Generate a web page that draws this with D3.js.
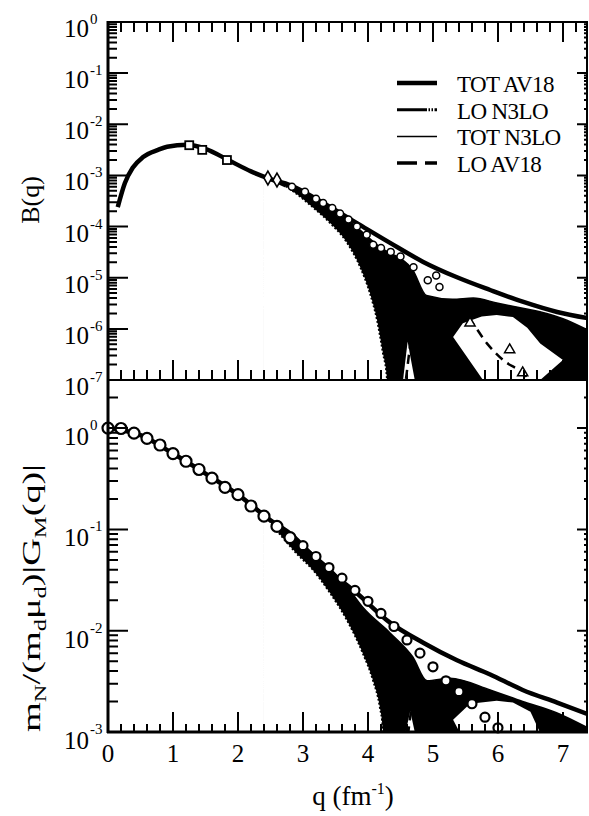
<!DOCTYPE html>
<html>
<head>
<meta charset="utf-8">
<script src="https://cdn.jsdelivr.net/npm/d3@7"></script>
</head>
<body style="margin:0;background:#fff">
<svg id="fig" width="589" height="816" style="font-family:'Liberation Serif','Times New Roman',serif"></svg>
<script>
// ---------- top panel : B(q) ----------
const qTotAv18B = [0.15, 0.26, 0.38, 0.54, 0.77, 0.91, 1.22, 1.5, 1.85, 2.2, 2.5, 2.8, 3.31, 3.83, 4.34, 4.85, 5.37, 5.88, 6.38, 6.91, 7.38];
const totAv18B  = [2.4e-4, 7.1e-4, 1.41e-3, 2.29e-3, 3.16e-3, 3.63e-3, 3.98e-3, 3.31e-3, 2.0e-3, 1.2e-3, 8.5e-4, 6.5e-4, 2.9e-4, 1.17e-4, 4.8e-5, 2.04e-5, 1.02e-5, 5.75e-6, 3.4e-6, 2.14e-6, 1.62e-6];

// upper edge of the black N3LO band (TOT N3LO)
const qTotN3loB = [2.4, 2.8, 3.2, 3.5, 3.68, 4.18, 4.69, 4.9, 5.3, 5.62, 6.0, 6.4, 6.75, 7.0, 7.38];
const totN3loB  = [9.5e-4, 6.2e-4, 3.5e-4, 2.1e-4, 1.4e-4, 4.0e-5, 1.41e-5, 4.5e-6, 3.8e-6, 4.0e-6, 3.16e-6, 2.5e-6, 2.0e-6, 1.58e-6, 9.5e-7];
// lower edge (LO N3LO)
const qLoN3loB = [2.4, 2.65, 3.15, 3.42, 3.68, 3.88, 4.03, 4.14, 4.23, 4.29, 4.33];
const loN3loB  = [9.5e-4, 7.1e-4, 2.4e-4, 1.17e-4, 4.8e-5, 1.62e-5, 5.0e-6, 1.48e-6, 3.4e-7, 1.15e-7, 1e-8];

const qLoAv18B = [2.4, 3.0, 3.5, 4.0, 4.3, 4.5, 4.7, 5.0, 5.3, 5.57, 5.83, 6.08, 6.38, 6.7];
const loAv18B  = [9.5e-4, 4.0e-4, 1.4e-4, 2.5e-5, 3.2e-6, 3.2e-8, 1.0e-6, 2.8e-6, 2.5e-6, 1.48e-6, 5.2e-7, 2.45e-7, 1.38e-7, 5e-8];

// white holes inside the band
const qNotchB = [4.54, 4.61, 4.72];
const notchB  = [1e-7, 5.6e-7, 1e-7];
const qHoleB  = [5.31, 5.46, 5.75, 5.98, 6.23, 6.45, 6.65, 7.0, 6.65, 5.77];
const holeB   = [6.9e-7, 1.29e-6, 1.74e-6, 1.86e-6, 1.7e-6, 1.05e-6, 5.2e-7, 2.45e-7, 1e-7, 1e-7];

// data points
const qSqB   = [1.25, 1.45, 1.83];
const sqB    = [3.9e-3, 3.16e-3, 2.0e-3];
const qDiaB  = [2.46, 2.6];
const diaB   = [8.9e-4, 8.1e-4];
const qCircB = [2.83, 3.03, 3.2, 3.31, 3.45, 3.57, 3.7, 3.83, 3.98, 4.08, 4.2, 4.35, 4.5, 4.7, 4.92, 5.05, 5.1];
const circB  = [6.0e-4, 4.8e-4, 3.5e-4, 2.9e-4, 2.3e-4, 1.8e-4, 1.38e-4, 1.0e-4, 6.9e-5, 4.4e-5, 3.8e-5, 3.2e-5, 2.6e-5, 1.6e-5, 8.9e-6, 1.1e-5, 6.6e-6];
const qTriB  = [5.57, 6.18, 6.38];
const triB   = [1.3e-6, 3.9e-7, 1.38e-7];

// ---------- bottom panel : mN/(md mud)|GM(q)| ----------
const qTotAv18G = [0, 0.5, 1.0, 1.5, 2.0, 2.5, 2.8, 3.31, 3.83, 4.34, 4.85, 5.37, 5.88, 6.38, 6.91, 7.38];
const totAv18G  = [1.0, 0.85, 0.56, 0.355, 0.22, 0.123, 0.091, 0.043, 0.0234, 0.012, 0.0076, 0.0051, 0.0037, 0.0026, 0.00195, 0.0015];

const qTotN3loG = [2.4, 2.8, 3.15, 3.42, 3.68, 3.92, 4.34, 4.69, 4.91, 5.26, 5.88, 6.38, 6.9, 7.38];
const totN3loG  = [0.141, 0.089, 0.058, 0.041, 0.027, 0.017, 0.0095, 0.0055, 0.0032, 0.0034, 0.0026, 0.002, 0.00155, 0.0011];
const qLoN3loG  = [2.4, 2.9, 3.15, 3.42, 3.68, 3.92, 4.08, 4.18, 4.23, 4.27];
const loN3loG   = [0.141, 0.058, 0.040, 0.0234, 0.0126, 0.006, 0.0032, 0.0018, 0.00105, 1e-4];

const qLoAv18G = [2.4, 3.0, 3.5, 4.0, 4.3, 4.5, 4.7, 5.0, 5.5, 6.0, 6.5, 7.0, 7.38];
const loAv18G  = [0.141, 0.063, 0.028, 0.0089, 0.0025, 3.2e-4, 0.002, 0.0028, 0.0025, 0.0023, 0.0018, 0.0013, 0.001];

const qNotchG = [4.58, 4.65, 4.72];
const notchG  = [1e-3, 1.6e-3, 1e-3];
const qHoleG  = [5.31, 5.57, 5.98, 6.23, 6.5, 6.68, 5.45];
const holeG   = [1.32e-3, 1.9e-3, 2.04e-3, 1.95e-3, 1.58e-3, 8.9e-4, 8.9e-4];

const qCircG = [0, 0.2, 0.4, 0.6, 0.8, 1.0, 1.2, 1.4, 1.6, 1.8, 2.0, 2.2, 2.4, 2.6, 2.8, 3.0, 3.2, 3.4, 3.6, 3.8, 4.0, 4.2, 4.4, 4.6, 4.8, 5.0, 5.2, 5.4, 5.6, 5.8, 6.0];
const circG  = [1.0, 0.99, 0.89, 0.79, 0.68, 0.56, 0.47, 0.39, 0.32, 0.26, 0.22, 0.17, 0.135, 0.107, 0.083, 0.069, 0.054, 0.042, 0.033, 0.025, 0.0195, 0.0148, 0.011, 0.0081, 0.006, 0.0044, 0.0032, 0.0025, 0.0019, 0.0014, 0.0011];

// ---------- ticks / legend ----------
const xMajor = [0, 1, 2, 3, 4, 5, 6, 7];
const xMinor = [0.2, 0.4, 0.6, 0.8, 1.2, 1.4, 1.6, 1.8, 2.2, 2.4, 2.6, 2.8, 3.2, 3.4, 3.6, 3.8, 4.2, 4.4, 4.6, 4.8, 5.2, 5.4, 5.6, 5.8, 6.2, 6.4, 6.6, 6.8, 7.2];
const expB = [0, -1, -2, -3, -4, -5, -6, -7];
const expG = [0, -1, -2, -3];
const mantissa = [2, 3, 4, 5, 6, 7, 8, 9];
const legendNames = ["TOT AV18", "LO N3LO", "TOT N3LO", "LO AV18"];

// ---------- drawing ----------
const svg = d3.select("#fig");
const x  = d3.scaleLinear().domain([0, 7.37]).range([108, 587]);
const yB = d3.scaleLog().domain([1e-7, 1]).range([380, 22]);
const yG = d3.scaleLog().domain([1e-3, 2.98]).range([732, 380]);

const pts = (qs, vs) => qs.map((q, i) => [q, vs[i]]);

const decB = expB.map(e => Math.pow(10, e));
const decG = expG.map(e => Math.pow(10, e));
const minorB = [];
expB.slice(1).forEach(e => mantissa.forEach(k => minorB.push(k * Math.pow(10, e))));
const minorG = [];
expG.forEach(e => mantissa.forEach(k => { if (k * Math.pow(10, e) < 2.98) minorG.push(k * Math.pow(10, e)); }));

const defs = svg.append("defs");
defs.append("clipPath").attr("id", "clipB").append("rect")
    .attr("x", x(0)).attr("y", yB(1)).attr("width", x(7.37) - x(0)).attr("height", yB(1e-7) - yB(1));
defs.append("clipPath").attr("id", "clipG").append("rect")
    .attr("x", x(0)).attr("y", yG(2.98)).attr("width", x(7.37) - x(0)).attr("height", yG(1e-3) - yG(2.98));

function drawPanel(y, clip, d) {
    const g = svg.append("g").attr("clip-path", "url(#" + clip + ")");
    const yBot = y.range()[0];
    const line = d3.line().x(p => x(p[0])).y(p => y(p[1])).curve(d3.curveMonotoneX);
    const under = d3.area().x(p => x(p[0])).y0(yBot).y1(p => y(p[1])).curve(d3.curveMonotoneX);
    const poly = d3.line().x(p => x(p[0])).y(p => y(p[1])).curve(d3.curveLinearClosed);

    // black band = everything under the upper edge, then cut the white parts out
    g.append("path").attr("d", under(pts(d.qHi, d.hi))).attr("fill", "#000");
    g.append("path").attr("d", under(pts(d.qLo, d.lo))).attr("fill", "#fff");
    g.append("path").attr("d", poly(pts(d.qNotch, d.notch))).attr("fill", "#fff");
    g.append("path").attr("d", poly(pts(d.qHole, d.hole))).attr("fill", "#fff");

    // curves
    g.append("path").attr("d", line(pts(d.qLoAv, d.loAv)))
        .attr("fill", "none").attr("stroke", "#000").attr("stroke-width", 2.5).attr("stroke-dasharray", "9,6");
    g.append("path").attr("d", line(pts(d.qLo, d.lo)))
        .attr("fill", "none").attr("stroke", "#000").attr("stroke-width", 2).attr("stroke-dasharray", "2,2");
    g.append("path").attr("d", line(pts(d.qHi, d.hi)))
        .attr("fill", "none").attr("stroke", "#000").attr("stroke-width", 1.5);
    g.append("path").attr("d", line(pts(d.qTot, d.tot)))
        .attr("fill", "none").attr("stroke", "#000").attr("stroke-width", 4.5);
    return g;
}

const gB = drawPanel(yB, "clipB", {
    qHi: qTotN3loB, hi: totN3loB, qLo: qLoN3loB, lo: loN3loB,
    qNotch: qNotchB, notch: notchB, qHole: qHoleB, hole: holeB,
    qLoAv: qLoAv18B, loAv: loAv18B, qTot: qTotAv18B, tot: totAv18B
});
const gG = drawPanel(yG, "clipG", {
    qHi: qTotN3loG, hi: totN3loG, qLo: qLoN3loG, lo: loN3loG,
    qNotch: qNotchG, notch: notchG, qHole: qHoleG, hole: holeG,
    qLoAv: qLoAv18G, loAv: loAv18G, qTot: qTotAv18G, tot: totAv18G
});

// markers, top
gB.selectAll(".sq").data(pts(qSqB, sqB)).join("rect")
    .attr("x", p => x(p[0]) - 4).attr("y", p => yB(p[1]) - 4).attr("width", 8).attr("height", 8)
    .attr("fill", "#fff").attr("stroke", "#000").attr("stroke-width", 1.8);
gB.selectAll(".dia").data(pts(qDiaB, diaB)).join("path")
    .attr("transform", p => `translate(${x(p[0])},${yB(p[1])})`)
    .attr("d", d3.symbol(d3.symbolDiamond, 55))
    .attr("fill", "#fff").attr("stroke", "#000").attr("stroke-width", 1.6);
gB.selectAll(".cb").data(pts(qCircB, circB)).join("circle")
    .attr("cx", p => x(p[0])).attr("cy", p => yB(p[1])).attr("r", 3.5)
    .attr("fill", "#fff").attr("stroke", "#000").attr("stroke-width", 1.5);
gB.selectAll(".tri").data(pts(qTriB, triB)).join("path")
    .attr("transform", p => `translate(${x(p[0])},${yB(p[1])})`)
    .attr("d", d3.symbol(d3.symbolTriangle, 45))
    .attr("fill", "#fff").attr("stroke", "#000").attr("stroke-width", 1.5);

// markers, bottom (not clipped so the q=0 point shows whole)
svg.append("g").selectAll("circle").data(pts(qCircG, circG)).join("circle")
    .attr("cx", p => x(p[0])).attr("cy", p => yG(p[1])).attr("r", p => p[0] < 2.9 ? 5.5 : 4.5)
    .attr("fill", "#fff").attr("stroke", "#000").attr("stroke-width", 2.2);

// frame + all ticks as one path each per stroke width
const r = v => Math.round(v * 10) / 10;
const vTick = (vals, y0, len) => vals.map(v => `M${r(x(v))},${y0}V${y0 + len}`).join("");
const hTick = (y, vals, x0, len) => vals.map(v => `M${x0},${r(y(v))}H${x0 + len}`).join("");

const thin = "M108,22H587V732H108Z M108,380H587"
    + vTick(xMajor, 380, -20) + vTick(xMinor, 380, -10)
    + vTick(xMajor, 22, 20) + vTick(xMinor, 22, 10)
    + vTick(xMajor, 732, -20) + vTick(xMinor, 732, -8)
    + hTick(yB, decB, 108, 20) + hTick(yB, minorB, 108, 9)
    + hTick(yB, decB, 587, -10) + hTick(yB, minorB, 587, -3)
    + hTick(yG, decG, 108, 20) + hTick(yG, minorG, 108, 10)
    + hTick(yG, decG, 587, -10) + hTick(yG, minorG, 587, -3);
svg.append("path").attr("d", thin).attr("fill", "none").attr("stroke", "#000").attr("stroke-width", 2);
svg.append("path").attr("d", "M108,21V733 M107,732H588").attr("fill", "none").attr("stroke", "#000").attr("stroke-width", 3);

// tick labels
function decadeLabels(y, exps, dyMain, dySup) {
    exps.forEach(e => {
        const yy = y(Math.pow(10, e));
        svg.append("text").attr("x", 89).attr("y", yy + dyMain).attr("text-anchor", "end")
            .attr("font-size", 25).text("10");
        svg.append("text").attr("x", 90).attr("y", yy + dySup)
            .attr("font-size", 15).text(String(e));
    });
}
decadeLabels(yB, expB, 15, 2);
decadeLabels(yG, expG, 17, 2);

svg.selectAll(".xl").data(xMajor).join("text")
    .attr("x", d => x(d)).attr("y", 762).attr("text-anchor", "middle")
    .attr("font-size", 25).text(d => d);

// axis titles
const xt = svg.append("text").attr("x", 353).attr("y", 805).attr("text-anchor", "middle").attr("font-size", 27);
xt.append("tspan").text("q (fm");
xt.append("tspan").attr("dy", -11).attr("font-size", 16).text("-1");
xt.append("tspan").attr("dy", 11).text(")");

svg.append("text").attr("transform", "translate(39,200) rotate(-90)")
    .attr("text-anchor", "middle").attr("font-size", 26).text("B(q)");

const yt = svg.append("text").attr("text-anchor", "middle").attr("font-size", 25);
[["m", 0], ["N", 1], ["/(m", 0], ["d", 1], ["\u03bc", 0], ["d", 1], [")|G", 0], ["M", 1], ["(q)|", 0]]
    .forEach(([s, sub], i, arr) => {
        const prev = i > 0 ? arr[i - 1][1] : 0;
        const t = yt.append("tspan").text(s);
        if (sub) t.attr("font-size", 16);
        const shift = (sub - prev) * 6;
        if (shift) t.attr("dy", shift);
    });
const ytLen = yt.node().getComputedTextLength();
yt.attr("transform", `translate(40,598) rotate(-90) scale(${268 / ytLen},1)`);

// legend
const legStyle = [
    { w: 4.5, dash: null },
    { w: 3, dash: "30,1.5,1.5,1.5,1.5,1.5" },
    { w: 1.5, dash: null },
    { w: 3.5, dash: "20,8,12,40" }
];
const leg = svg.append("g");
legendNames.forEach((name, i) => {
    const ly = 83 + i * 26.7;
    leg.append("line").attr("x1", 397).attr("x2", 437).attr("y1", ly).attr("y2", ly)
        .attr("stroke", "#000").attr("stroke-width", legStyle[i].w)
        .attr("stroke-dasharray", legStyle[i].dash);
    leg.append("text").attr("x", 457).attr("y", ly + 9)
        .attr("font-size", 23).attr("letter-spacing", -0.6).text(name);
});
</script>
</body>
</html>
